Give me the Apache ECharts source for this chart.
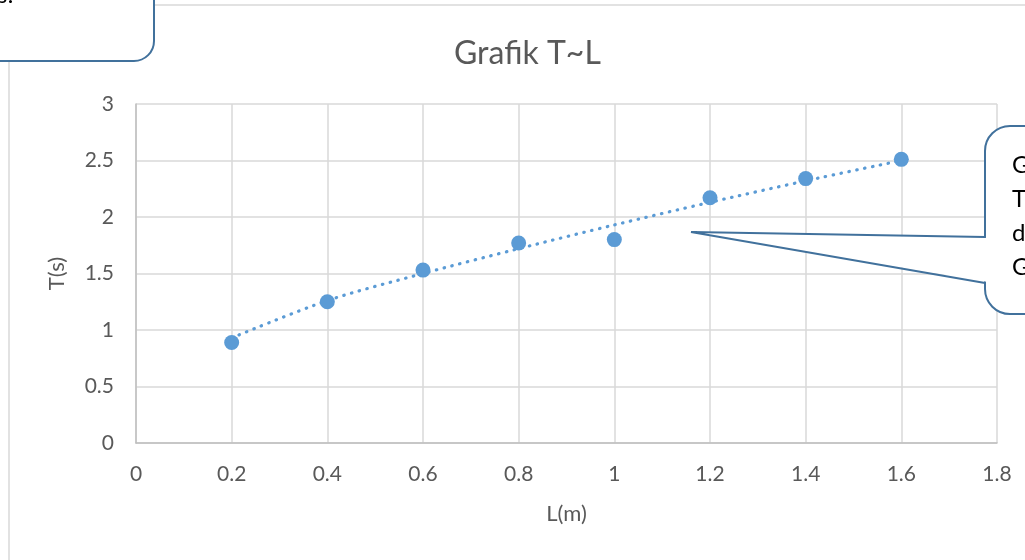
<!DOCTYPE html>
<html>
<head>
<meta charset="utf-8">
<script src="https://cdn.jsdelivr.net/npm/echarts@6/dist/echarts.min.js"></script>
<style>
html,body{margin:0;padding:0;background:#fff;}
#c{width:1025px;height:560px;}
</style>
</head>
<body>
<div id="c"></div>
<script>
const titleText = 'Grafik T~L';
const xName = 'L(m)';
const yName = 'T(s)';
const L = [0.2, 0.4, 0.6, 0.8, 1.0, 1.2, 1.4, 1.6];
const T = [0.89, 1.25, 1.53, 1.77, 1.80, 2.17, 2.34, 2.51];
const trendT = [0.93, 1.26, 1.50, 1.72, 1.93, 2.13, 2.32, 2.50];
const calloutLines = ['G', 'T', 'd', 'G'];

const FONT = 'Lato, "Open Sans", sans-serif';
const chart = echarts.init(document.getElementById('c'));
const blue = '#5b9bd5';
const calloutStroke = '#41719c';

chart.setOption({
  animation: false,
  backgroundColor: '#fff',
  title: {
    text: titleText, left: 449, top: 33,
    textStyle: { fontFamily: FONT, fontSize: 32, fontWeight: 'normal', color: '#595959' }
  },
  grid: { left: 136, right: 28, top: 104, bottom: 117 },
  xAxis: {
    type: 'value', min: 0, max: 1.8, interval: 0.2,
    name: xName, nameLocation: 'middle', nameGap: 60,
    nameTextStyle: { fontFamily: FONT, fontSize: 22, color: '#595959' },
    axisLine: { lineStyle: { color: '#bfbfbf', width: 1.5 } },
    axisTick: { show: false },
    axisLabel: { fontFamily: FONT, fontSize: 21, color: '#595959', margin: 21,
      formatter: v => String(Math.round(v * 10) / 10) },
    splitLine: { show: true, lineStyle: { color: '#d9d9d9', width: 1.5 } }
  },
  yAxis: {
    type: 'value', min: 0, max: 3, interval: 0.5,
    name: yName, nameLocation: 'middle', nameGap: 68, nameRotate: 90,
    nameTextStyle: { fontFamily: FONT, fontSize: 22, color: '#595959' },
    axisLine: { show: true, lineStyle: { color: '#bfbfbf', width: 1.5 } },
    axisTick: { show: false },
    axisLabel: { fontFamily: FONT, fontSize: 21, color: '#595959', margin: 22 },
    splitLine: { show: true, lineStyle: { color: '#d9d9d9', width: 1.5 } }
  },
  series: [
    {
      type: 'line', data: L.map((x, i) => [x, trendT[i]]), smooth: 0.3,
      showSymbol: false, z: 1,
      lineStyle: { color: blue, width: 3.2, type: [0.5, 7.5], cap: 'round' }
    },
    {
      type: 'scatter', data: L.map((x, i) => [x, T[i]]), symbolSize: 15, z: 2,
      itemStyle: { color: blue, opacity: 1 }
    }
  ],
  graphic: [
    { type: 'rect', shape: { x: 9, y: 5, width: 1030, height: 570 }, silent: true, z: -1,
      style: { fill: 'none', stroke: '#d9d9d9', lineWidth: 1.5 } },
    { type: 'rect', shape: { x: -30, y: -30, width: 184, height: 91, r: 20 },
      style: { fill: '#fff', stroke: calloutStroke, lineWidth: 2 }, z: 10 },
    { type: 'text', left: -3, top: -17, z: 11,
      style: { text: 's:', font: '24px ' + FONT, fill: '#000' } },
    { type: 'rect', z: 10, shape: { x: 985, y: 126, width: 90, height: 188, r: 25 },
      style: { fill: '#fff', stroke: calloutStroke, lineWidth: 2 } },
    { type: 'polygon', z: 11,
      shape: { points: [[988, 238], [692, 232], [988, 282]] },
      style: { fill: '#fff', stroke: 'none' } },
    { type: 'polyline', z: 12,
      shape: { points: [[985, 237], [691, 232], [985, 283]] },
      style: { fill: 'none', stroke: calloutStroke, lineWidth: 2 } },
    { type: 'text', z: 13, left: 1012, top: 148,
      style: { text: calloutLines.join('\n'), font: '24px ' + FONT, fill: '#000', lineHeight: 34 } }
  ]
});
</script>
</body>
</html>
